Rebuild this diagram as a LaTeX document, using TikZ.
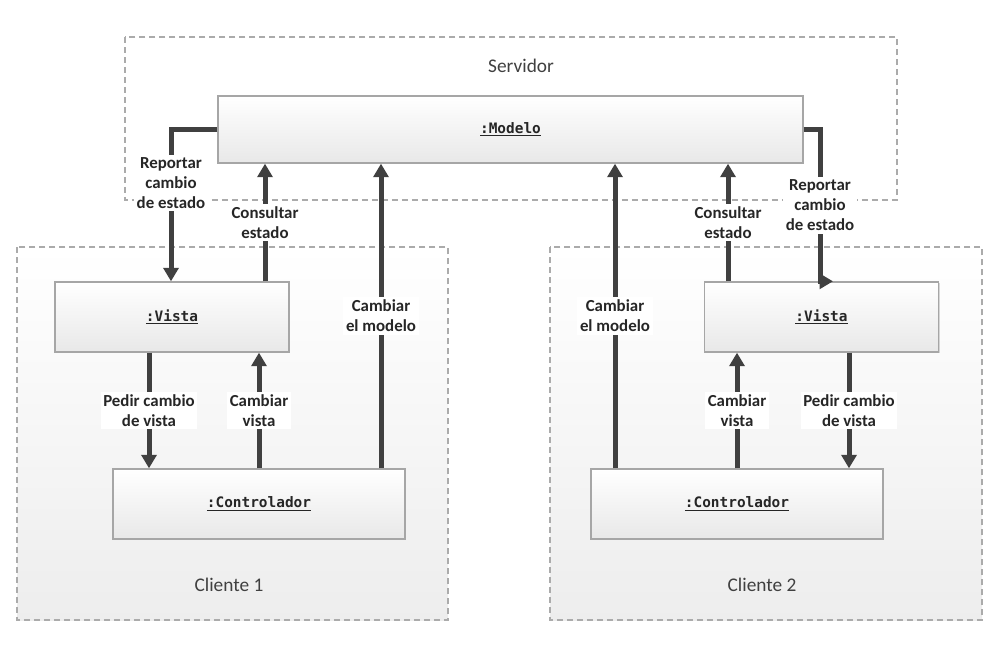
\documentclass[tikz,border=0pt]{standalone}
\usepackage{fontspec}
\setmainfont{Carlito}
\newfontfamily\codefont{DejaVu Sans Mono}
\usetikzlibrary{arrows.meta,shadows}
\definecolor{linegray}{HTML}{404040}
\definecolor{framegray}{HTML}{A6A6A6}
\definecolor{dashgray}{HTML}{ABABAB}
\tikzset{
	zone/.style={draw=dashgray, dash pattern=on 0.12cm off 0.08cm, line width=0.6pt},
	obj/.style={draw=framegray, line width=0.8pt, top color=white, bottom color=black!9,
		drop shadow={shadow xshift=0.7pt, shadow yshift=-0.7pt, fill=black!30, opacity=0.5},
		minimum height=1.4cm, font=\codefont\bfseries\fontsize{8.2}{10}\selectfont, text=black!85},
	flow/.style={draw=linegray, line width=0.1cm, -{Triangle[length=0.27cm,width=0.3cm]}},
	lbl/.style={fill=white, inner sep=1.5pt, align=center, text=black!85,
		font=\bfseries\fontsize{9.6}{11.4}\selectfont},
	zonelbl/.style={font=\fontsize{11}{13}\selectfont, text=black!75}
}
\begin{document}
\begin{tikzpicture}[x=0.02cm,y=-0.02cm]
		\useasboundingbox (0,0) rectangle (1000,650);
		\draw[zone, fill=white] (125,37) rectangle (897,200);
		\draw[zone, top color=white, bottom color=black!7] (17,247) rectangle (448,620);
		\draw[zone, top color=white, bottom color=black!7] (550,247) rectangle (982,620);
		\node[zonelbl] (srv) at (521,66) {Servidor};
		\node[zonelbl] (cli1) at (229,585) {Cliente 1};
		\node[zonelbl] (cli2) at (762,585) {Cliente 2};

		\node[obj, minimum width=11.7cm, minimum height=1.34cm] (modelo) at (510.5,129.5) {\underline{:Modelo}};
		\node[obj, minimum width=4.68cm] (vista1) at (172,317) {\underline{:Vista}};
		\node[obj, minimum width=5.84cm] (ctrl1) at (259,504) {\underline{:Controlador}};
		\node[obj, minimum width=4.68cm] (vista2) at (821.5,317) {\underline{:Vista}};
		\node[obj, minimum width=5.84cm] (ctrl2) at (737,504) {\underline{:Controlador}};

		\draw[flow] (modelo.west) -| node[lbl, pos=0.676] {Reportar\\cambio\\de estado} (171,0 |- vista1.north);
		\draw[flow] (265,0 |- vista1.north) -- node[lbl] {Consultar\\estado} (265,0 |- modelo.south);
		\draw[flow] (381,0 |- ctrl1.north) -- node[lbl] {Cambiar\\el modelo} (381,0 |- modelo.south);
		\draw[flow] (149,0 |- vista1.south) -- node[lbl] {Pedir cambio\\de vista} (149,0 |- ctrl1.north);
		\draw[flow] (259,0 |- ctrl1.north) -- node[lbl] {Cambiar\\vista} (259,0 |- vista1.south);

		\draw[flow] (615,0 |- ctrl2.north) -- node[lbl] {Cambiar\\el modelo} (615,0 |- modelo.south);
		\draw[flow] (728,0 |- vista2.north) -- node[lbl] {Consultar\\estado} (728,0 |- modelo.south);
		\draw[flow] (modelo.east) -- (820,0 |- modelo.east) -- node[lbl] {Reportar\\cambio\\de estado} (820,0 |- vista2.north) -- ++(13,0);
		\draw[flow] (737,0 |- ctrl2.north) -- node[lbl] {Cambiar\\vista} (737,0 |- vista2.south);
		\draw[flow] (849,0 |- vista2.south) -- node[lbl] {Pedir cambio\\de vista} (849,0 |- ctrl2.north);
\end{tikzpicture}
\end{document}
